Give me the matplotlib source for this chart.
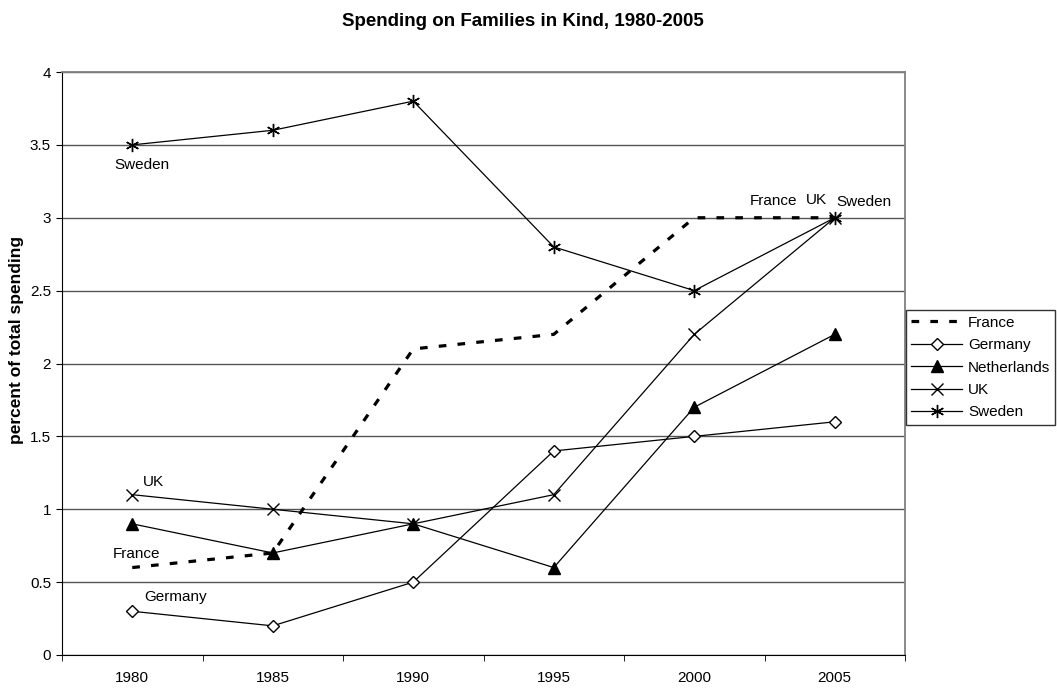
import matplotlib
matplotlib.use("Agg")
from matplotlib import pyplot as plt

years = ["1980", "1985", "1990", "1995", "2000", "2005"]
france = [0.6, 0.7, 2.1, 2.2, 3.0, 3.0]
germany = [0.3, 0.2, 0.5, 1.4, 1.5, 1.6]
netherlands = [0.9, 0.7, 0.9, 0.6, 1.7, 2.2]
uk = [1.1, 1.0, 0.9, 1.1, 2.2, 3.0]
sweden = [3.5, 3.6, 3.8, 2.8, 2.5, 3.0]

plt.rcParams['font.family'] = ['Liberation Sans', 'DejaVu Sans']

fig = plt.figure(figsize=(10.57, 6.88), dpi=100)
ax = fig.add_axes([62 / 1057, 33 / 688, 843 / 1057, 583 / 688])

x = list(range(len(years)))

ax.plot(x, france, color='black', linestyle=(0, (2.4, 3.5)), linewidth=2.3,
        dash_capstyle='butt', label='France')
ax.plot(x, germany, color='black', linewidth=0.9, marker='D', markersize=6.5,
        markerfacecolor='white', markeredgewidth=1, label='Germany')
ax.plot(x, netherlands, color='black', linewidth=0.9, marker='^', markersize=9,
        label='Netherlands')
ax.plot(x, uk, color='black', linewidth=0.9, marker='x', markersize=9,
        markeredgewidth=1, label='UK')
ax.plot(x, sweden, color='black', linewidth=0.9, marker=(6, 2, 0), markersize=9.5,
        markeredgewidth=1, label='Sweden')

ax.set_xlim(-0.5, 5.5)
ax.set_ylim(0, 4)
ax.set_yticks([0, 0.5, 1, 1.5, 2, 2.5, 3, 3.5, 4])
ax.set_yticklabels(['0', '0.5', '1', '1.5', '2', '2.5', '3', '3.5', '4'], fontsize=11)
ax.set_xticks(x)
ax.set_xticklabels(years, fontsize=11)
ax.tick_params(axis='x', which='major', length=0, pad=11.5)
ax.set_xticks([i - 0.5 for i in range(len(years) + 1)], minor=True)
ax.tick_params(axis='x', which='minor', length=4.3, direction='out')
ax.tick_params(axis='y', length=4.3, direction='out', pad=3.6)

ax.yaxis.grid(True, color='#555555', linewidth=1)
ax.set_axisbelow(True)
for side in ['top', 'right']:
    ax.spines[side].set_color('#808080')
    ax.spines[side].set_linewidth(1.3)

ax.set_ylabel('percent of total spending', fontsize=12.5, fontweight='bold')
ax.yaxis.set_label_coords(-0.045, 0.54)
fig.text(523 / 1057, 1 - 21 / 688, 'Spending on Families in Kind, 1980-2005',
         fontsize=13.5, fontweight='bold', ha='center', va='center')

# series labels (offsets in points from the data point)
def label(text, xi, yi, dx, dy):
    ax.annotate(text, (xi, yi), xytext=(dx, dy), textcoords='offset points',
                ha='center', va='center', fontsize=11)

label('Sweden', 0, sweden[0], 7.2, -14.4)
label('UK', 0, uk[0], 15, 9)
label('France', 0, france[0], 2.9, 9.7)
label('Germany', 0, germany[0], 31, 10)
label('France', 5, france[5], -44, 12.2)
label('UK', 5, uk[5], -13, 13)
label('Sweden', 5, sweden[5], 21, 11)

leg = ax.legend(loc='center left', bbox_to_anchor=(906 / 1057, 1 - 367.5 / 688),
                bbox_transform=fig.transFigure, fontsize=11, frameon=True,
                fancybox=False, edgecolor='black', handlelength=3.3,
                handletextpad=0.4, borderpad=0.35, labelspacing=0.55, borderaxespad=0)
leg.get_frame().set_linewidth(1)

plt.savefig('out.png', dpi=100)
plt.close()
